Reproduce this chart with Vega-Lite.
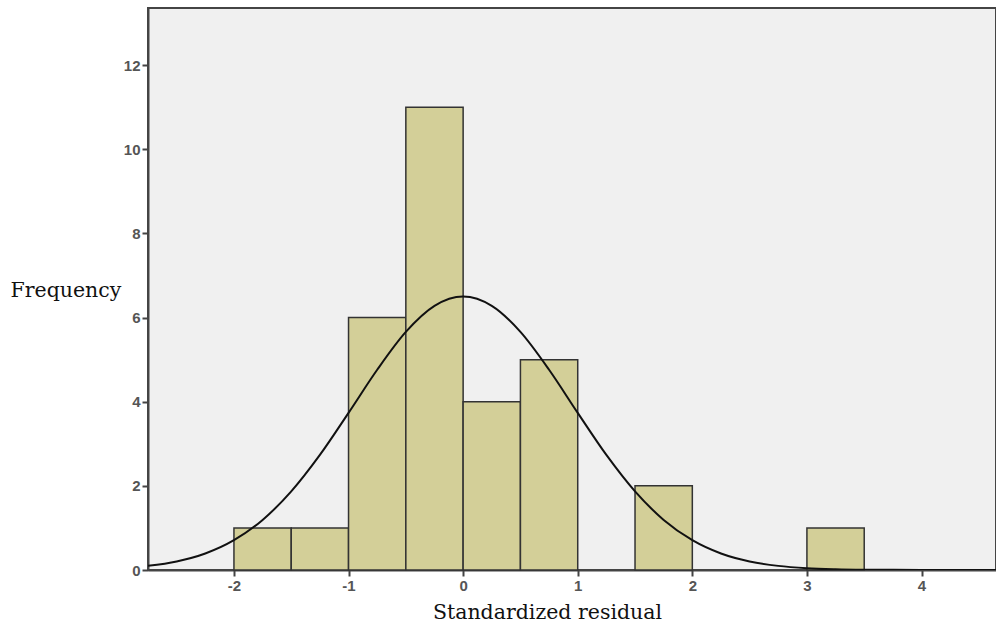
{
  "$schema": "https://vega.github.io/schema/vega-lite/v6.json",
  "width": 848,
  "height": 562,
  "autosize": {"type": "none"},
  "padding": {"left": 148, "top": 8, "right": 0, "bottom": 56},
  "background": "white",
  "config": {
    "view": {"fill": "#f0f0f0", "stroke": "#444444", "strokeWidth": 2},
    "axis": {
      "grid": false,
      "domainColor": "#444444",
      "domainWidth": 2,
      "tickColor": "#444444",
      "tickWidth": 2,
      "tickSize": 6,
      "labelFont": "Liberation Sans",
      "labelFontSize": 15,
      "labelFontWeight": "bold",
      "labelColor": "#555555",
      "labelPadding": 2,
      "labelExpr": "'' + datum.value",
      "titleFont": "DejaVu Serif",
      "titleFontSize": 20.5,
      "titleFontWeight": "normal",
      "titleColor": "#111111"
    }
  },
  "datasets": {
    "bins": [
      {"start": -2.0, "end": -1.5, "count": 1},
      {"start": -1.5, "end": -1.0, "count": 1},
      {"start": -1.0, "end": -0.5, "count": 6},
      {"start": -0.5, "end": 0.0, "count": 11},
      {"start": 0.0, "end": 0.5, "count": 4},
      {"start": 0.5, "end": 1.0, "count": 5},
      {"start": 1.5, "end": 2.0, "count": 2},
      {"start": 3.0, "end": 3.5, "count": 1}
    ],
    "curve": [
      {"x": -2.75, "y": 0.098},
      {"x": -2.5, "y": 0.204},
      {"x": -2.25, "y": 0.393},
      {"x": -2.0, "y": 0.709},
      {"x": -1.75, "y": 1.191},
      {"x": -1.5, "y": 1.869},
      {"x": -1.25, "y": 2.735},
      {"x": -1.0, "y": 3.735},
      {"x": -0.75, "y": 4.76},
      {"x": -0.5, "y": 5.66},
      {"x": -0.25, "y": 6.279},
      {"x": 0.0, "y": 6.5},
      {"x": 0.25, "y": 6.279},
      {"x": 0.5, "y": 5.66},
      {"x": 0.75, "y": 4.76},
      {"x": 1.0, "y": 3.735},
      {"x": 1.25, "y": 2.735},
      {"x": 1.5, "y": 1.869},
      {"x": 1.75, "y": 1.191},
      {"x": 2.0, "y": 0.709},
      {"x": 2.25, "y": 0.393},
      {"x": 2.5, "y": 0.204},
      {"x": 2.75, "y": 0.098},
      {"x": 3.0, "y": 0.044},
      {"x": 3.25, "y": 0.019},
      {"x": 3.5, "y": 0.007},
      {"x": 3.75, "y": 0.003},
      {"x": 4.0, "y": 0.001},
      {"x": 4.65, "y": 0.0}
    ]
  },
  "layer": [
    {
      "data": {"name": "bins"},
      "mark": {"type": "rect", "fill": "#d3cf98", "stroke": "#333333", "strokeWidth": 1.5},
      "encoding": {
        "x": {
          "field": "start",
          "type": "quantitative",
          "scale": {"domain": [-2.75, 4.65], "nice": false, "zero": false},
          "axis": {
            "values": [-2, -1, 0, 1, 2, 3, 4],
            "title": "Standardized residual",
            "titleX": 399,
            "titleY": 42,
            "titleBaseline": "middle",
            "titleAnchor": "middle"
          }
        },
        "x2": {"field": "end"},
        "y": {
          "field": "count",
          "type": "quantitative",
          "scale": {"domain": [0, 13.36], "nice": false},
          "axis": {
            "values": [0, 2, 4, 6, 8, 10, 12],
            "title": "Frequency",
            "titleAngle": 0,
            "titleAlign": "left",
            "titleBaseline": "middle",
            "titleX": -138,
            "titleY": 282
          }
        },
        "y2": {"datum": 0}
      }
    },
    {
      "data": {"name": "curve"},
      "mark": {"type": "line", "color": "#111111", "strokeWidth": 2, "interpolate": "monotone", "clip": true},
      "encoding": {
        "x": {"field": "x", "type": "quantitative"},
        "y": {"field": "y", "type": "quantitative"}
      }
    }
  ]
}
